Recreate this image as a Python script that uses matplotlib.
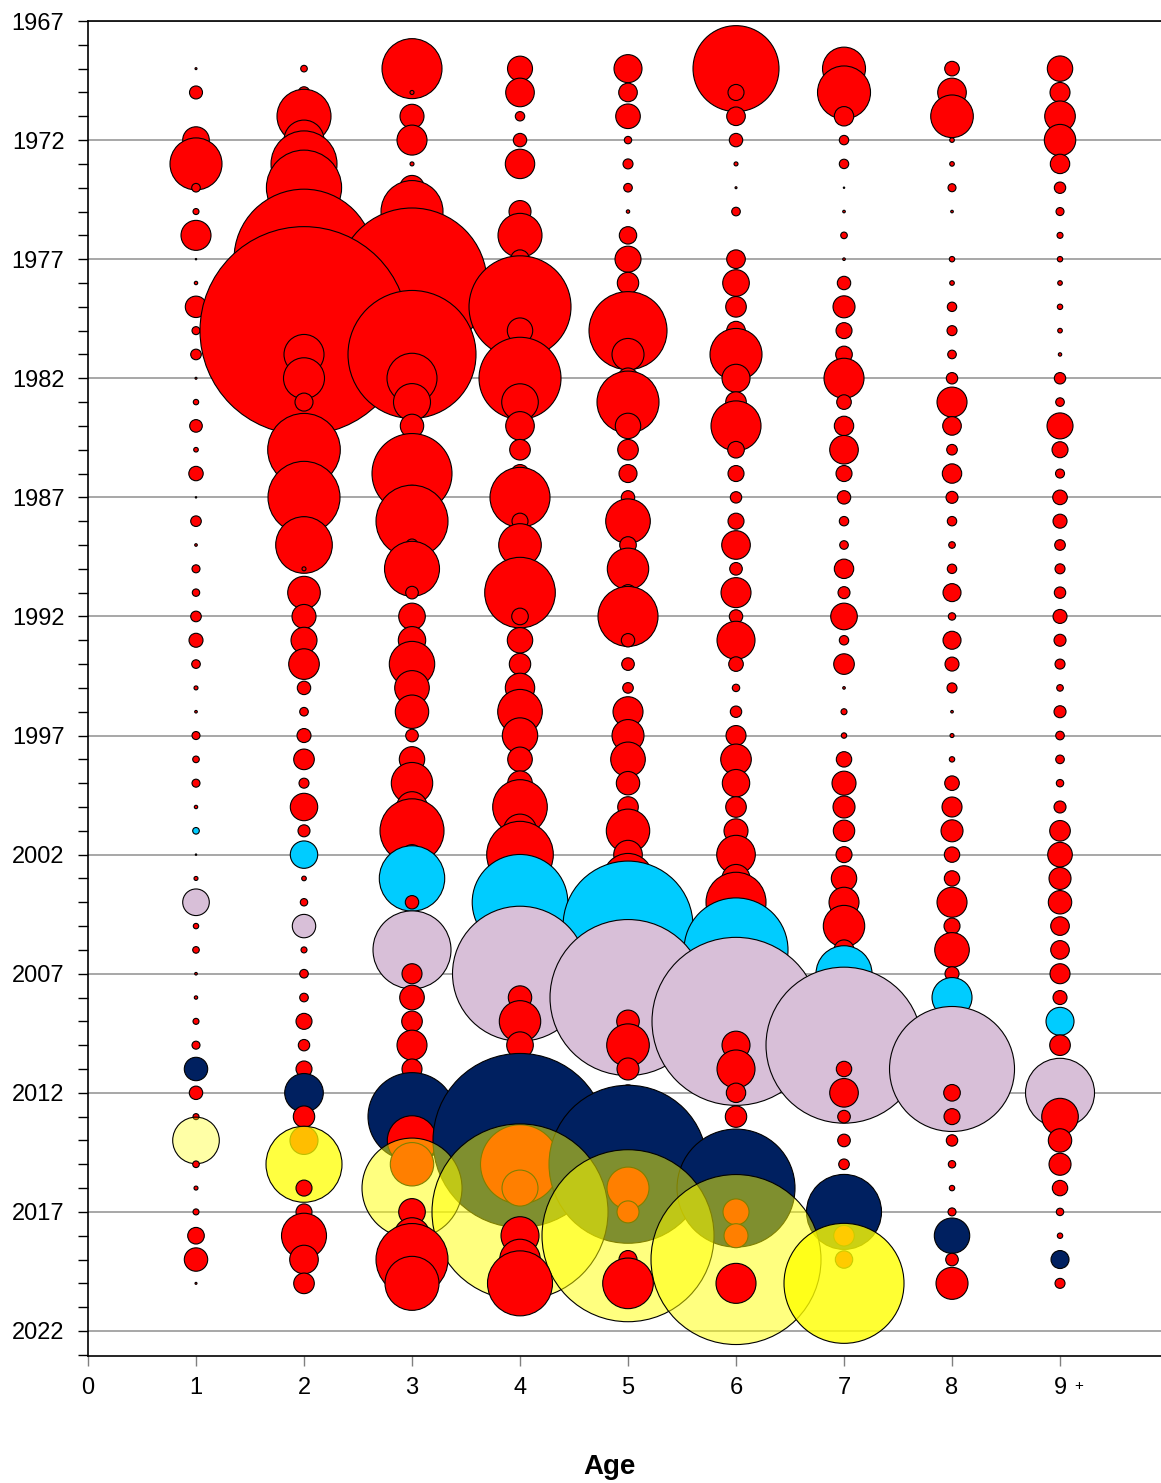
import matplotlib
matplotlib.use("Agg")
import matplotlib.pyplot as plt
from matplotlib.colors import to_rgba
from matplotlib.transforms import blended_transform_factory

plt.rcParams['font.family'] = ['Liberation Sans', 'DejaVu Sans']

# catch-at-age bubbles, values (bubble width units)
years = list(range(1969, 2021))
ages = [1, 2, 3, 4, 5, 6, 7, 8, 9]
age_labels = ['0', '1', '2', '3', '4', '5', '6', '7', '8', '9']

age1 = [1.0, 6.5, 0, 13.3, 26, 4.3, 3, 15, 0.7, 1.7, 10.7, 4, 5.3, 1, 2.7, 6.3, 2.3, 7.2,
        0.7, 5.3, 1.3, 4, 3.7, 5.3, 7, 4.3, 2, 1.3, 4, 3.3, 4, 1.7, 3.3, 0.7, 2, 13.3,
        2.7, 3.3, 1.3, 1.7, 3, 4, 11.7, 6.7, 3, 23.3, 3.3, 2, 3, 8.3, 11.7, 1]
age2 = [3.3, 5.7, 27, 20, 33, 37.6, 15, 25, 70, 40, 45, 104, 20, 20.5, 9, 8, 36.3, 10,
        36, 4.5, 28.3, 2, 16.3, 12, 13, 15.3, 6.7, 4.3, 7, 10.3, 5, 13.7, 6, 13.7, 2.3, 3.7,
        11.7, 3, 4.3, 4.3, 8, 5.7, 8, 19.3, 10.7, 14, 38, 8, 8, 22.5, 14.3, 10.3]
age3 = [30, 2, 12, 15, 2, 12.3, 31, 25, 35, 75, 15, 20, 64, 25, 18.5, 11.7, 10, 40,
        12, 36, 6, 27.5, 6.3, 13.3, 13.7, 22.7, 17.3, 16.7, 6.3, 12.7, 20.7, 15.3, 32, 10, 32.7, 6.7,
        10, 39, 10, 12.3, 10.3, 15, 10, 8, 44, 24.7, 21.7, 50, 13.3, 18, 36, 27]
age4 = [12.5, 14.3, 4.7, 6.7, 14.7, 0, 11, 22, 9.3, 20, 51, 12.7, 10, 41, 18.3, 14.3, 10.3, 9,
        30, 8, 21.3, 10, 35.3, 8.3, 12.7, 10.7, 14.7, 22.3, 17.7, 12.3, 12.3, 27.3, 16.7, 33.3, 20, 47.8,
        15, 20, 67.5, 11.7, 20.7, 13.3, 8, 8, 10, 87, 39.5, 18, 88, 19, 20.3, 32.5]
age5 = [14, 9.3, 12.3, 3.7, 5, 4.3, 1.7, 8.7, 13, 10.7, 10, 39, 16, 10.3, 31, 12.7, 10.3, 9,
        6.7, 22.3, 8.3, 20.7, 8, 30, 6.7, 6.3, 5.3, 15, 16, 17.3, 11.7, 10.3, 21.7, 14.3, 25, 30,
        65, 15, 20, 78, 11.3, 21.3, 11, 8, 8, 8, 79, 21, 11, 86, 9, 25.3]
age6 = [43, 8, 9.3, 6.7, 2, 1, 4.3, 0, 9.3, 13.3, 10.3, 9.3, 26, 14, 10.3, 25, 8.3, 8,
        5.7, 8, 14.3, 6.3, 15, 6.7, 19, 7.3, 3.7, 5.7, 10, 15.3, 13.7, 10.3, 12, 19.3, 14, 30,
        15, 52, 15, 15, 84, 14, 19, 9.7, 10.7, 8, 8, 59, 13, 12, 85, 20]
age7 = [21.5, 26.5, 9.7, 4.7, 4.7, 0.7, 1.3, 3.3, 1.3, 6.7, 11, 8, 8.3, 20, 7.3, 9.7, 14.3, 8,
        6.7, 4.7, 4.3, 9.7, 6, 13.3, 4.7, 10.3, 1.3, 3, 2.7, 7.7, 12, 11, 10.7, 8, 12.7, 15,
        20.7, 10, 28, 15, 15, 78, 7.7, 14.3, 6.3, 6.3, 5.3, 6, 37.5, 10.3, 8.7, 60]
age8 = [7.3, 14.3, 21.3, 2.3, 2.3, 4, 1.3, 0, 2.7, 2.3, 4.7, 5, 4.3, 5.7, 15, 9.3, 5.3, 9.7,
        6, 4.7, 3.3, 4.7, 9, 3.7, 9, 7, 5, 1.3, 2, 2.7, 7.3, 10, 11, 7.7, 7.7, 15,
        8, 17.3, 7, 20, 8, 8, 62.5, 8.3, 8, 5.7, 3.7, 2.7, 4, 17.7, 6.3, 16]
age9 = [12.7, 10, 15.3, 15.7, 9.7, 5.7, 4, 3, 2.7, 2.3, 2.7, 2.3, 1.7, 5.7, 4.3, 13, 8, 4.5,
        7.3, 7, 5.3, 5, 5.7, 7, 6, 5, 3.3, 6, 4.3, 4.3, 3.7, 6, 10.3, 12.3, 11, 11.7,
        9.3, 9.3, 10, 7, 14, 10.3, 8, 34.5, 18.3, 11.7, 11, 7.7, 3.7, 2.7, 9, 5]

catch = [age1, age2, age3, age4, age5, age6, age7, age8, age9]

# highlighted year classes
highlight = {2000: '#00ccff', 2003: '#d8bfd8', 2010: '#002060', 2013: '#ffff00'}
yellow_alpha = {1: 0.35, 2: 0.75, 3: 0.5, 4: 0.5, 5: 0.5, 6: 0.5, 7: 0.8}

fig = plt.figure(figsize=(11.61, 14.83), dpi=100)
ax = fig.add_axes([88 / 1161, 1 - 1356 / 1483, 1 - 88 / 1161, 1335 / 1483])

xs, ys, ss, fcs = [], [], [], []
for i, yr in enumerate(years):
    for a in ages:
        v = catch[a - 1][i]
        if v <= 0:
            continue
        cohort = yr - a
        col = highlight.get(cohort, '#ff0000')
        alpha = yellow_alpha.get(a, 0.5) if cohort == 2013 else 1.0
        xs.append(a)
        ys.append(yr)
        ss.append((v * 1.44) ** 2)
        fcs.append(to_rgba(col, alpha))

ax.scatter(xs, ys, s=ss, c=fcs, edgecolors='black', linewidths=0.8, zorder=3)

ax.set_xlim(0, 9.935)
ax.set_ylim(2023.05, 1967)

ax.set_yticks(range(1967, 2023, 5))
ax.set_yticks(range(1967, 2024), minor=True)
ax.set_xticks(range(0, 10))
ax.set_xticklabels(age_labels)

ax.yaxis.grid(True, which='major', color='#a0a0a0', lw=1.3, zorder=0)
ax.set_axisbelow(True)

for side in ['top', 'left', 'bottom']:
    ax.spines[side].set_color('black')
    ax.spines[side].set_linewidth(1.2)
ax.spines['right'].set_visible(False)

ax.tick_params(axis='y', which='both', direction='out', length=7, width=1, color='black',
               labelsize=17, pad=10)
ax.tick_params(axis='x', which='major', direction='out', length=7, width=1, color='#808080',
               labelsize=17, pad=8)

trans = blended_transform_factory(ax.transData, ax.transAxes)
ax.text(9.17, -0.0225, '+', transform=trans, fontsize=11, ha='center', va='center')

fig.text(609 / 1161, 1 - 1467 / 1483, 'Age', fontsize=20, fontweight='bold',
         ha='center', va='center')

fig.savefig('out.png', dpi=100)
